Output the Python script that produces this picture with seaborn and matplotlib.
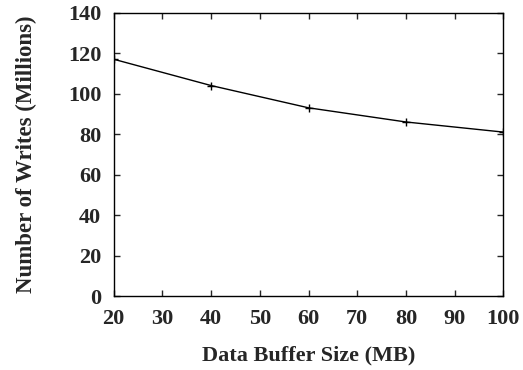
import matplotlib
matplotlib.use("Agg")
import matplotlib.pyplot as plt
import seaborn as sns
import pandas as pd

buffer_sizes = [20, 40, 60, 80, 100]
writes_millions = [117, 104, 93, 86, 81]
x_ticks = [20, 30, 40, 50, 60, 70, 80, 90, 100]
y_ticks = [0, 20, 40, 60, 80, 100, 120, 140]

sns.set_style("ticks")
plt.rcParams['font.family'] = ['Liberation Serif', 'DejaVu Serif']
plt.rcParams['font.weight'] = 'bold'

df = pd.DataFrame({"size": buffer_sizes, "writes": writes_millions})

fig = plt.figure(figsize=(5.23, 3.70), dpi=100)
ax = fig.add_axes([113.7/523, 1 - 296/370, (503.3-113.7)/523, (296-12.7)/370])
sns.lineplot(data=df, x="size", y="writes", ax=ax, color="black", linewidth=1.0,
             marker="+", markersize=6, markeredgewidth=1.0, markeredgecolor="black")
ax.set_xlim(20, 100)
ax.set_ylim(0, 140)
ax.set_xticks(x_ticks)
ax.set_yticks(y_ticks)
ax.tick_params(direction="in", top=True, right=True, length=4, width=1, labelsize=16)
ax.tick_params(axis="x", pad=9)
ax.tick_params(axis="y", pad=9)
for lab in ax.get_xticklabels() + ax.get_yticklabels():
    lab.set_fontweight("bold")
for s in ax.spines.values():
    s.set_linewidth(1.0)
    s.set_color("black")
ax.set_xlabel("Data Buffer Size (MB)", fontsize=16, fontweight="bold", labelpad=12)
ax.set_ylabel("Number of Writes (Millions)", fontsize=16.5, fontweight="bold", labelpad=22)
fig.savefig("out.png", dpi=100)
